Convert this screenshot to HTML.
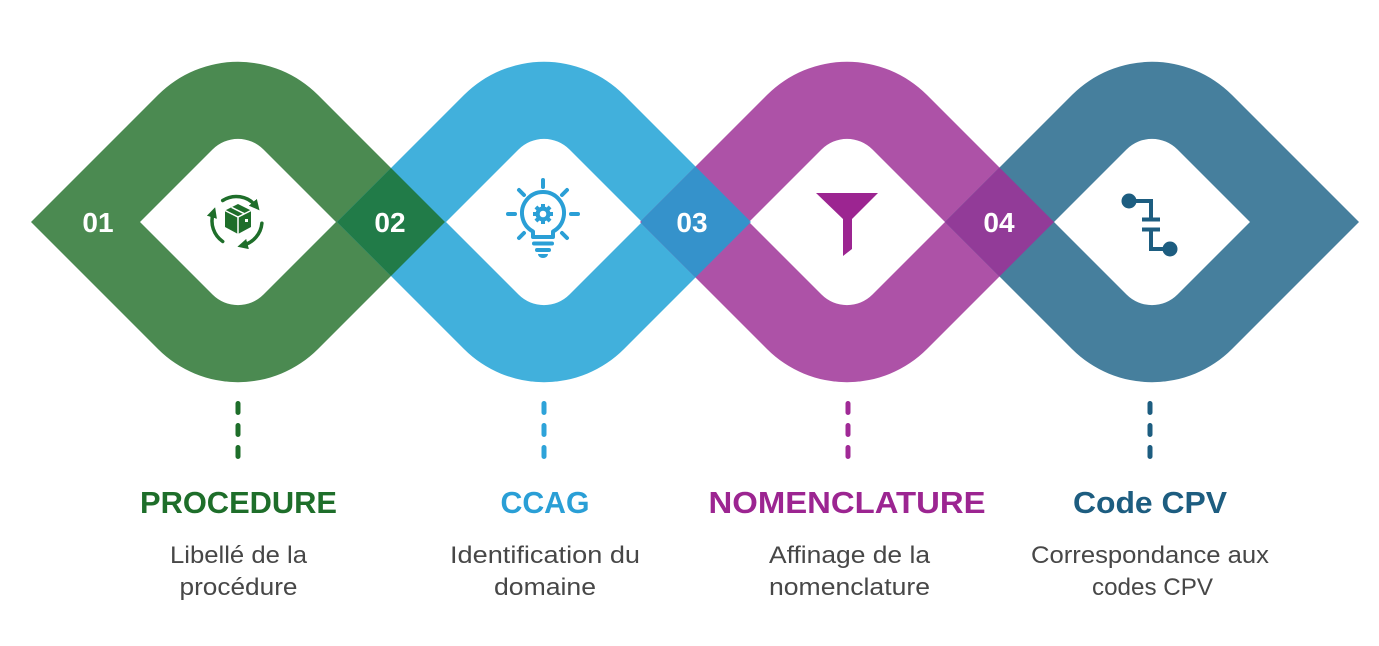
<!DOCTYPE html>
<html>
<head>
<meta charset="utf-8">
<style>
html,body{margin:0;padding:0;background:#fff;}
svg{display:block;}
text{font-family:"Liberation Sans",sans-serif;}
.num{font-weight:bold;font-size:28px;fill:#fff;text-anchor:middle;}
.ttl{font-weight:bold;font-size:31px;text-anchor:middle;}
.sub{font-size:24px;fill:#474747;text-anchor:middle;}
</style>
</head>
<body>
<svg width="1379" height="646" viewBox="0 0 1379 646" xmlns="http://www.w3.org/2000/svg">
<defs>
  <clipPath id="c2"><path clip-rule="evenodd" d="M337,222 L464.1,94.9 A113,113 0 0 1 623.9,94.9 L751,222 L623.9,349.1 A113,113 0 0 1 464.1,349.1 Z M446,222 L518.5,149.5 A36,36 0 0 1 569.5,149.5 L642,222 L569.5,294.5 A36,36 0 0 1 518.5,294.5 Z"/></clipPath>
  <clipPath id="c3"><path clip-rule="evenodd" d="M640,222 L767.1,94.9 A113,113 0 0 1 926.9,94.9 L1054,222 L926.9,349.1 A113,113 0 0 1 767.1,349.1 Z M749,222 L821.5,149.5 A36,36 0 0 1 872.5,149.5 L945,222 L872.5,294.5 A36,36 0 0 1 821.5,294.5 Z"/></clipPath>
  <clipPath id="c4"><path clip-rule="evenodd" d="M945,222 L1072.1,94.9 A113,113 0 0 1 1231.9,94.9 L1359,222 L1231.9,349.1 A113,113 0 0 1 1072.1,349.1 Z M1054,222 L1126.5,149.5 A36,36 0 0 1 1177.5,149.5 L1250,222 L1177.5,294.5 A36,36 0 0 1 1126.5,294.5 Z"/></clipPath>
  <marker id="ag" viewBox="0 0 10 10" refX="4" refY="5" markerWidth="3" markerHeight="3" orient="auto">
    <path d="M0,0 L10,5 L0,10 Z" fill="#1e6e2a"/>
  </marker>
</defs>

<!-- rings -->
<path fill="#4b8a51" fill-rule="evenodd" d="M31,222 L158.1,94.9 A113,113 0 0 1 317.9,94.9 L445,222 L317.9,349.1 A113,113 0 0 1 158.1,349.1 Z M140,222 L212.5,149.5 A36,36 0 0 1 263.5,149.5 L336,222 L263.5,294.5 A36,36 0 0 1 212.5,294.5 Z"/>
<path fill="#41b0dc" fill-rule="evenodd" d="M337,222 L464.1,94.9 A113,113 0 0 1 623.9,94.9 L751,222 L623.9,349.1 A113,113 0 0 1 464.1,349.1 Z M446,222 L518.5,149.5 A36,36 0 0 1 569.5,149.5 L642,222 L569.5,294.5 A36,36 0 0 1 518.5,294.5 Z"/>
<path fill="#ad52a7" fill-rule="evenodd" d="M640,222 L767.1,94.9 A113,113 0 0 1 926.9,94.9 L1054,222 L926.9,349.1 A113,113 0 0 1 767.1,349.1 Z M749,222 L821.5,149.5 A36,36 0 0 1 872.5,149.5 L945,222 L872.5,294.5 A36,36 0 0 1 821.5,294.5 Z"/>
<path fill="#467f9d" fill-rule="evenodd" d="M945,222 L1072.1,94.9 A113,113 0 0 1 1231.9,94.9 L1359,222 L1231.9,349.1 A113,113 0 0 1 1072.1,349.1 Z M1054,222 L1126.5,149.5 A36,36 0 0 1 1177.5,149.5 L1250,222 L1177.5,294.5 A36,36 0 0 1 1126.5,294.5 Z"/>

<!-- overlaps -->
<path clip-path="url(#c2)" fill="#217b48" fill-rule="evenodd" d="M31,222 L158.1,94.9 A113,113 0 0 1 317.9,94.9 L445,222 L317.9,349.1 A113,113 0 0 1 158.1,349.1 Z M140,222 L212.5,149.5 A36,36 0 0 1 263.5,149.5 L336,222 L263.5,294.5 A36,36 0 0 1 212.5,294.5 Z"/>
<path clip-path="url(#c3)" fill="#3592cb" fill-rule="evenodd" d="M337,222 L464.1,94.9 A113,113 0 0 1 623.9,94.9 L751,222 L623.9,349.1 A113,113 0 0 1 464.1,349.1 Z M446,222 L518.5,149.5 A36,36 0 0 1 569.5,149.5 L642,222 L569.5,294.5 A36,36 0 0 1 518.5,294.5 Z"/>
<path clip-path="url(#c4)" fill="#923b98" fill-rule="evenodd" d="M640,222 L767.1,94.9 A113,113 0 0 1 926.9,94.9 L1054,222 L926.9,349.1 A113,113 0 0 1 767.1,349.1 Z M749,222 L821.5,149.5 A36,36 0 0 1 872.5,149.5 L945,222 L872.5,294.5 A36,36 0 0 1 821.5,294.5 Z"/>

<!-- numbers -->
<text class="num" x="98" y="232">01</text>
<text class="num" x="390" y="232">02</text>
<text class="num" x="692" y="232">03</text>
<text class="num" x="999" y="232">04</text>

<!-- icon 1: recycle box -->
<g fill="none" stroke="#1e6e2a" stroke-width="3.5" stroke-linecap="round">
  <path d="M222.7,200.5 A25,25 0 0 1 255.5,205.5" marker-end="url(#ag)"/>
  <path d="M261.9,223.2 A25,25 0 0 1 243.5,245.1" marker-end="url(#ag)"/>
  <path d="M222.7,241.5 A25,25 0 0 1 213.2,213.3" marker-end="url(#ag)"/>
</g>
<g>
  <path d="M238,204 L251,210.5 L251,227 L238,234 L225,227 L225,210.5 Z" fill="#1e6e2a"/>
  <path d="M225,210.5 L238,217 L251,210.5 M238,217 L238,234" fill="none" stroke="#fff" stroke-width="1.5"/>
  <path d="M231.5,207.3 L244.5,213.8" fill="none" stroke="#fff" stroke-width="1.5"/>
  <rect x="245" y="219" width="3" height="3" fill="#fff"/>
</g>

<!-- icon 2: lightbulb -->
<g fill="none" stroke="#2a9fd6" stroke-width="4" stroke-linecap="round" stroke-linejoin="round">
  <path d="M533,237 L533,231.5 A21,21 0 1 1 553,231.5 L553,237 Z"/>
  <line x1="534" y1="243.5" x2="552" y2="243.5"/>
  <line x1="537" y1="250" x2="549" y2="250"/>
  <line x1="543" y1="180" x2="543" y2="187"/>
  <line x1="508" y1="214" x2="515" y2="214"/>
  <line x1="571" y1="214" x2="578" y2="214"/>
  <line x1="519" y1="190" x2="524" y2="195"/>
  <line x1="567" y1="190" x2="562" y2="195"/>
  <line x1="519" y1="238" x2="524" y2="233"/>
  <line x1="567" y1="238" x2="562" y2="233"/>
</g>
<path d="M538,254 L548,254 A5,4 0 0 1 538,254 Z" fill="#2a9fd6"/>
<g fill="#2a9fd6">
  <circle cx="543" cy="214" r="7.5"/>
  <rect x="541" y="204" width="4" height="20"/>
  <rect x="533" y="212" width="20" height="4"/>
  <rect x="541" y="204" width="4" height="20" transform="rotate(45 543 214)"/>
  <rect x="541" y="204" width="4" height="20" transform="rotate(-45 543 214)"/>
</g>
<circle cx="543" cy="214" r="3.3" fill="#fff"/>

<!-- icon 3: funnel -->
<path d="M816,193 L878,193 L852,219 L852,249 L843,256 L843,219 Z" fill="#9c2591"/>

<!-- icon 4: circuit -->
<g fill="#1d5d80">
  <circle cx="1129" cy="201" r="7.5"/>
  <circle cx="1170" cy="249" r="7.5"/>
  <rect x="1142" y="217.5" width="18" height="4"/>
  <rect x="1142" y="227.5" width="18" height="4"/>
</g>
<g fill="none" stroke="#1d5d80" stroke-width="4">
  <path d="M1129,201 L1151,201 L1151,219"/>
  <path d="M1151,230 L1151,249 L1170,249"/>
</g>

<!-- dashed connectors -->
<g stroke-width="5" stroke-linecap="round" stroke-dasharray="9 13">
  <line x1="238" y1="403.5" x2="238" y2="457" stroke="#1e6e2a"/>
  <line x1="544" y1="403.5" x2="544" y2="457" stroke="#2ea3d9"/>
  <line x1="848" y1="403.5" x2="848" y2="457" stroke="#a02a96"/>
  <line x1="1150" y1="403.5" x2="1150" y2="457" stroke="#1d5d80"/>
</g>

<!-- titles -->
<text class="ttl" x="238.5" y="513" fill="#1e6e2a" textLength="197" lengthAdjust="spacingAndGlyphs">PROCEDURE</text>
<text class="ttl" x="545" y="513" fill="#2a9fd6" textLength="89" lengthAdjust="spacingAndGlyphs">CCAG</text>
<text class="ttl" x="847" y="513" fill="#9c2591" textLength="277" lengthAdjust="spacingAndGlyphs">NOMENCLATURE</text>
<text class="ttl" x="1150" y="513" fill="#1d5d80" textLength="154" lengthAdjust="spacingAndGlyphs">Code CPV</text>

<!-- subtitles -->
<text class="sub" x="238.5" y="563" textLength="137" lengthAdjust="spacingAndGlyphs">Libellé de la</text>
<text class="sub" x="238.5" y="595" textLength="118" lengthAdjust="spacingAndGlyphs">procédure</text>
<text class="sub" x="545" y="563" textLength="190" lengthAdjust="spacingAndGlyphs">Identification du</text>
<text class="sub" x="545" y="595" textLength="102" lengthAdjust="spacingAndGlyphs">domaine</text>
<text class="sub" x="849.5" y="563" textLength="161" lengthAdjust="spacingAndGlyphs">Affinage de la</text>
<text class="sub" x="849.5" y="595" textLength="161" lengthAdjust="spacingAndGlyphs">nomenclature</text>
<text class="sub" x="1150" y="563" textLength="238" lengthAdjust="spacingAndGlyphs">Correspondance aux</text>
<text class="sub" x="1152.5" y="595" textLength="121" lengthAdjust="spacingAndGlyphs">codes CPV</text>
</svg>
</body>
</html>
